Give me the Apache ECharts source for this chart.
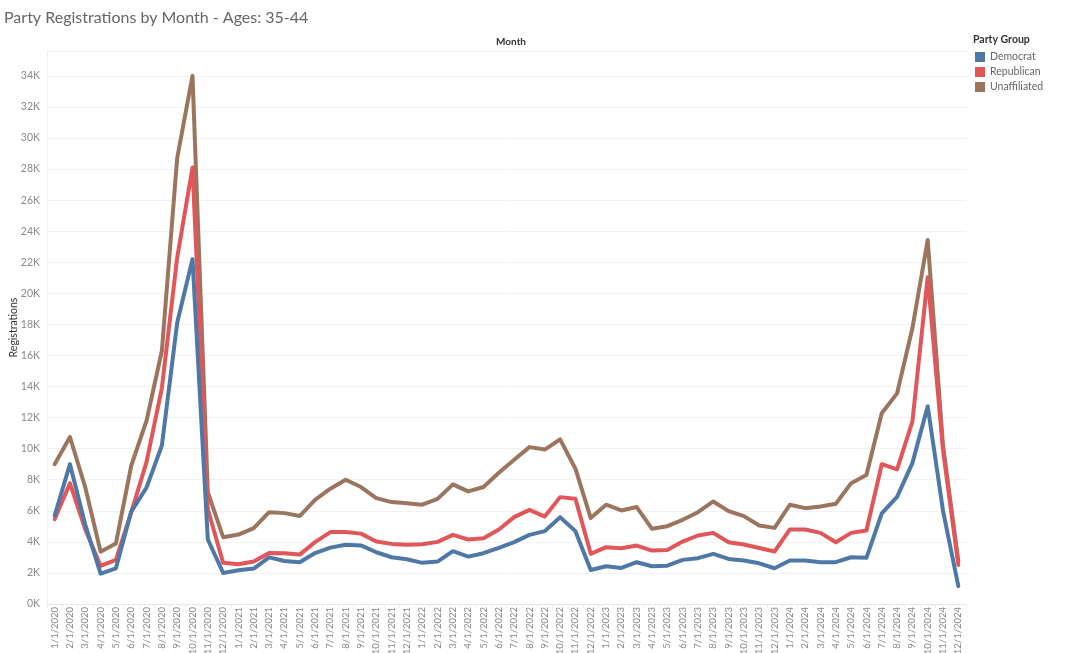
<!DOCTYPE html>
<html>
<head>
<meta charset="utf-8">
<script src="https://cdn.jsdelivr.net/npm/echarts@6/dist/echarts.min.js"></script>
<style>
html,body{margin:0;padding:0;background:#fff;}
#chart{width:1080px;height:653px;}
</style>
</head>
<body>
<div id="chart"></div>
<script>
const months = [
  '1/1/2020','2/1/2020','3/1/2020','4/1/2020','5/1/2020','6/1/2020','7/1/2020','8/1/2020','9/1/2020','10/1/2020','11/1/2020','12/1/2020',
  '1/1/2021','2/1/2021','3/1/2021','4/1/2021','5/1/2021','6/1/2021','7/1/2021','8/1/2021','9/1/2021','10/1/2021','11/1/2021','12/1/2021',
  '1/1/2022','2/1/2022','3/1/2022','4/1/2022','5/1/2022','6/1/2022','7/1/2022','8/1/2022','9/1/2022','10/1/2022','11/1/2022','12/1/2022',
  '1/1/2023','2/1/2023','3/1/2023','4/1/2023','5/1/2023','6/1/2023','7/1/2023','8/1/2023','9/1/2023','10/1/2023','11/1/2023','12/1/2023',
  '1/1/2024','2/1/2024','3/1/2024','4/1/2024','5/1/2024','6/1/2024','7/1/2024','8/1/2024','9/1/2024','10/1/2024','11/1/2024','12/1/2024'
];

const democrat = [
  5700, 9000, 5100, 1950, 2300, 5950, 7500, 10200, 18100, 22200, 4150, 2000,
  2170, 2280, 3000, 2770, 2690, 3280, 3630, 3820, 3770, 3330, 3010, 2880,
  2650, 2730, 3400, 3050, 3270, 3610, 3980, 4450, 4690, 5590, 4690, 2190,
  2430, 2320, 2690, 2430, 2470, 2840, 2950, 3230, 2900, 2800, 2620, 2300,
  2800, 2800, 2690, 2690, 3010, 2970, 5830, 6900, 9070, 12730, 6000, 1150
];

const republican = [
  5460, 7770, 4800, 2450, 2840, 5900, 9150, 13900, 22300, 28100, 6100, 2650,
  2560, 2740, 3290, 3270, 3180, 3980, 4630, 4630, 4530, 4020, 3870, 3810,
  3850, 4000, 4450, 4150, 4240, 4800, 5590, 6060, 5630, 6880, 6770, 3230,
  3660, 3590, 3760, 3440, 3480, 4020, 4410, 4580, 3980, 3830, 3610, 3380,
  4800, 4800, 4580, 3980, 4580, 4730, 9000, 8670, 11740, 21030, 9900, 2510
];

const unaffiliated = [
  9000, 10750, 7500, 3370, 3900, 8900, 11800, 16300, 28700, 34000, 7200, 4300,
  4470, 4880, 5910, 5850, 5660, 6710, 7420, 8000, 7530, 6820, 6560, 6490,
  6390, 6770, 7700, 7250, 7530, 8450, 9290, 10100, 9940, 10600, 8710, 5530,
  6390, 6020, 6240, 4840, 5010, 5420, 5910, 6600, 5980, 5660, 5050, 4900,
  6390, 6170, 6280, 6450, 7780, 8300, 12280, 13560, 17750, 23430, 10200, 2750
];

const partyNames = ['Democrat', 'Republican', 'Unaffiliated'];
const partyColors = ['#4e79a7', '#e15759', '#9c755f'];

const chart = echarts.init(document.getElementById('chart'));

function lineSeries(name, data, color, z) {
  return {
    name: name,
    type: 'line',
    data: data,
    showSymbol: false,
    symbol: 'none',
    z: z,
    lineStyle: { width: 4, color: color, cap: 'round', join: 'round' },
    itemStyle: { color: color },
    emphasis: { disabled: true },
    animation: false
  };
}

chart.setOption({
  animation: false,
  backgroundColor: '#ffffff',
  title: [
    {
      text: 'Party Registrations by Month - Ages: 35-44',
      left: -1, top: 5,
      textStyle: { fontFamily: 'Lato', fontSize: 16, fontWeight: 'normal', color: '#666666' }
    },
    {
      text: 'Month',
      left: 506, top: 32, textAlign: 'center',
      textStyle: { fontFamily: 'Lato', fontSize: 10, fontWeight: 'bold', color: '#333333' }
    },
    {
      text: 'Party Group',
      left: 968, top: 29,
      textStyle: { fontFamily: 'Lato', fontSize: 10.5, fontWeight: 'bold', color: '#333333' }
    }
  ],
  legend: {
    data: partyNames,
    orient: 'vertical',
    left: 970, top: 46,
    icon: 'rect',
    itemWidth: 10, itemHeight: 10, itemGap: 3,
    selectedMode: false,
    textStyle: { fontFamily: 'Lato', fontSize: 10.5, color: '#666666', lineHeight: 12 }
  },
  grid: { left: 47, right: 114, top: 51, bottom: 49, containLabel: false, outerBoundsMode: 'none' },
  xAxis: {
    type: 'category',
    data: months,
    boundaryGap: true,
    axisLine: { show: true, lineStyle: { color: '#e6e6e6', width: 1 } },
    axisTick: { show: true, interval: 0, length: 4, lineStyle: { color: '#eeeeee' } },
    axisLabel: {
      interval: 0, rotate: 90, fontFamily: 'Lato', fontSize: 9.5, color: '#8a8a8a', margin: 3
    },
    splitLine: { show: false }
  },
  yAxis: {
    type: 'value',
    min: 0, max: 35600, interval: 2000,
    name: 'Registrations',
    nameLocation: 'middle',
    nameGap: 28,
    nameMoveOverlap: false,
    nameRotate: 90,
    nameTextStyle: { fontFamily: 'Lato', fontSize: 10.5, color: '#333333' },
    axisLine: { show: true, lineStyle: { color: '#f0f0f0' } },
    axisTick: { show: false },
    axisLabel: {
      showMaxLabel: false,
      fontFamily: 'Lato', fontSize: 10.5, color: '#8a8a8a', margin: 7,
      formatter: function (v) { return (v % 2000 === 0) ? (v / 1000) + 'K' : ''; }
    },
    splitLine: { show: true, lineStyle: { color: '#f2f2f2', width: 1 } }
  },
  series: [
    lineSeries(partyNames[0], democrat, partyColors[0], 4),
    lineSeries(partyNames[1], republican, partyColors[1], 3),
    lineSeries(partyNames[2], unaffiliated, partyColors[2], 2)
  ]
});
</script>
</body>
</html>
